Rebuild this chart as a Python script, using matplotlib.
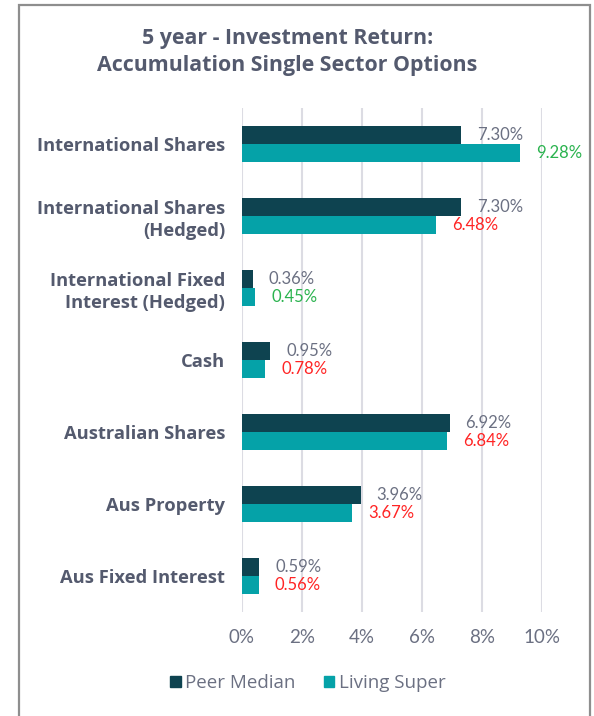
import matplotlib
matplotlib.use("Agg")
import matplotlib.pyplot as plt
from matplotlib.patches import Patch, Rectangle
import numpy as np

# chart data
categories = ["International Shares", "International Shares\n(Hedged)",
              "International Fixed\nInterest (Hedged)", "Cash",
              "Australian Shares", "Aus Property", "Aus Fixed Interest"]
peer_median = [7.30, 7.30, 0.36, 0.95, 6.92, 3.96, 0.59]
living_super = [9.28, 6.48, 0.45, 0.78, 6.84, 3.67, 0.56]
series_names = ["Peer Median", "Living Super"]
x_ticks = [0, 2, 4, 6, 8, 10]

DARK = "#0e4350"
TEAL = "#05a2a8"
TXT = "#545a6e"
LIGHT_TXT = "#6b7082"
GREEN = "#2bb34f"
RED = "#ff2424"
BOLD_FONT = ['Open Sans', 'DejaVu Sans']

plt.rcParams['font.family'] = ['Lato', 'DejaVu Sans']

fig = plt.figure(figsize=(5.94, 7.16), dpi=100)

# grey frame round the chart
fig.patches.append(Rectangle((19 / 594, -0.05), (590 - 19) / 594, 1.05 - 4.7 / 716,
                             transform=fig.transFigure, fill=False,
                             edgecolor="#8e8e8e", lw=1.6))

ax = fig.add_axes([241.7 / 594, 1 - 612 / 716, (542 - 241.7) / 594, 504 / 716])

y = np.arange(len(categories))
h = 0.25
ax.barh(y - h / 2, peer_median, height=h, color=DARK, zorder=3)
ax.barh(y + h / 2, living_super, height=h, color=TEAL, zorder=3)

# value labels
for i in range(len(categories)):
    ax.annotate(f"{peer_median[i]:.2f}%", (peer_median[i], y[i] - h / 2),
                xytext=(16, 0), textcoords='offset pixels', va='center',
                ha='left', fontsize=12, color=LIGHT_TXT)
    c = GREEN if living_super[i] > peer_median[i] else RED
    ax.annotate(f"{living_super[i]:.2f}%", (living_super[i], y[i] + h / 2),
                xytext=(16, 0), textcoords='offset pixels', va='center',
                ha='left', fontsize=12, color=c)

ax.set_xlim(0, 10)
ax.set_ylim(len(categories) - 0.5, -0.5)
ax.set_xticks(x_ticks)
ax.set_xticklabels([f"{t}%" for t in x_ticks])
ax.set_yticks(y)
ax.set_yticklabels(categories, fontweight='bold', fontsize=13.2, color=TXT,
                   linespacing=1.3, family=BOLD_FONT)
ax.tick_params(axis='y', length=0, pad=12)
ax.tick_params(axis='x', length=0, pad=12, labelsize=13.5, labelcolor=LIGHT_TXT)
for s in ax.spines.values():
    s.set_visible(False)
ax.grid(axis='x', color="#dcdce3", lw=1.5, zorder=0)

fig.text(287.5 / 594, 1 - 52 / 716,
         "5 year - Investment Return:\nAccumulation Single Sector Options",
         ha='center', va='center', fontsize=15.4, fontweight='bold', color=TXT,
         linespacing=1.4, family=BOLD_FONT)

handles = [Patch(color=DARK), Patch(color=TEAL)]
fig.legend(handles, series_names, loc='center', bbox_to_anchor=(308 / 594, 1 - 683 / 716),
           ncol=2, frameon=False, labelcolor=LIGHT_TXT,
           prop={'family': BOLD_FONT, 'size': 13.5},
           handlelength=0.55, handleheight=0.55, handletextpad=0.25, columnspacing=1.5)

fig.savefig("out.png", dpi=100)
